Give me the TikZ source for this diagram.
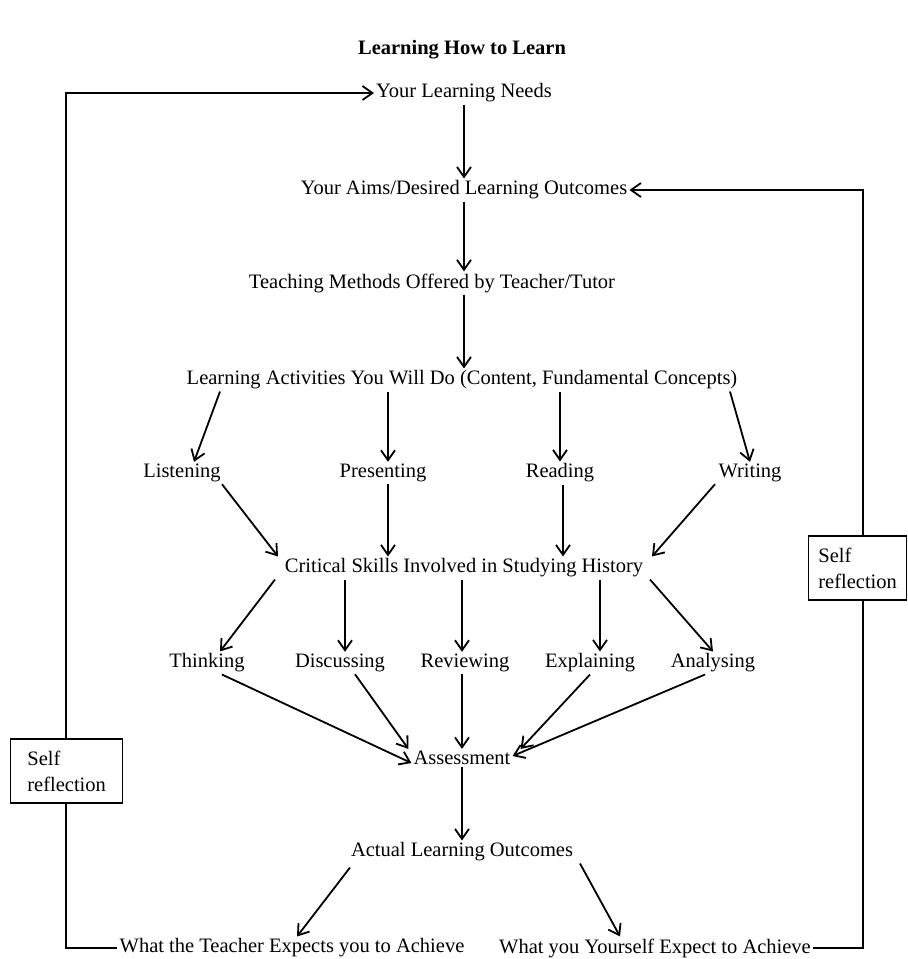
\documentclass[tikz,border=0pt]{standalone}
\usepackage{fontspec}
\setmainfont{Liberation Serif}
\usetikzlibrary{arrows.meta}
\begin{document}
\begin{tikzpicture}[x=1pt,y=-1pt,
  txt/.style={inner sep=2pt, font=\fontsize{20.5}{22}\selectfont},
  arr/.style={line width=1.8pt, -{Straight Barb[length=10pt,width=14pt,line width=1.8pt]}},
  ln/.style={line width=1.8pt},
  selfbox/.style={draw, line width=1.3pt, minimum height=64pt, align=left, inner sep=5pt, font=\fontsize{20.5}{26}\selectfont, anchor=west}]
\useasboundingbox (0,0) rectangle (908,959);
\node[txt, font=\bfseries\fontsize{20.5}{22}\selectfont] (title) at (462,50) {Learning How to Learn};
\node[txt] (need) at (464,93) {Your Learning Needs};
\node[txt] (aims) at (464,190) {Your Aims/Desired Learning Outcomes};
\node[txt] (teach) at (432,283) {Teaching Methods Offered by Teacher/Tutor};
\node[txt] (la) at (462,380) {Learning Activities You Will Do (Content, Fundamental Concepts)};
\node[txt] (listen) at (182,473) {Listening};
\node[txt] (present) at (383,473) {Presenting};
\node[txt] (read) at (560,473) {Reading};
\node[txt] (write) at (750,473) {Writing};
\node[txt] (cs) at (464,568) {Critical Skills Involved in Studying History};
\node[txt] (think) at (207,663) {Thinking};
\node[txt] (disc) at (340,663) {Discussing};
\node[txt] (rev) at (465,663) {Reviewing};
\node[txt] (expl) at (590,663) {Explaining};
\node[txt] (anal) at (713,663) {Analysing};
\node[txt] (assess) at (462,758) {Assessment};
\node[txt] (actual) at (462,852) {Actual Learning Outcomes};
\node[txt] (teacher) at (292,948) {What the Teacher Expects you to Achieve};
\node[txt] (yourself) at (655,948) {What you Yourself Expect to Achieve};
\node[selfbox, minimum width=112pt] (selfL) at (10,771) {Self\\reflection};
\node[selfbox, minimum width=98pt] (selfR) at (808,568) {Self\\reflection};
% main chain
\draw[arr] (need) -- (aims);
\draw[arr] (aims) -- ([xshift=32pt]teach.north);
\draw[arr] ([xshift=32pt]teach.south) -- ([xshift=2pt]la.north);
% activities
\draw[arr] ([xshift=-242pt]la.south) -- ([xshift=12pt]listen.north);
\draw[arr] ([xshift=-74pt]la.south) -- ([xshift=5pt]present.north);
\draw[arr] ([xshift=98pt]la.south) -- (read.north);
\draw[arr] ([xshift=268pt]la.south) -- (write.north);
% to critical skills
\draw[arr] ([xshift=40pt]listen.south) -- ([xshift=-186pt]cs.north);
\draw[arr] ([xshift=5pt]present.south) -- ([xshift=-76pt]cs.north);
\draw[arr] ([xshift=3pt]read.south) -- ([xshift=99pt]cs.north);
\draw[arr] ([xshift=-35pt]write.south) -- ([xshift=188pt]cs.north);
% skills
\draw[arr] ([xshift=-189pt]cs.south) -- ([xshift=13pt]think.north);
\draw[arr] ([xshift=-119pt]cs.south) -- ([xshift=5pt]disc.north);
\draw[arr] ([xshift=-2pt]cs.south) -- ([xshift=-3pt]rev.north);
\draw[arr] ([xshift=136pt]cs.south) -- ([xshift=10pt]expl.north);
\draw[arr] ([xshift=186pt]cs.south) -- (anal.north);
% to assessment
\draw[arr] ([xshift=15pt]think.south) -- ([yshift=-5pt]assess.west);
\draw[arr] ([xshift=15pt]disc.south) -- ([xshift=-3pt]assess.north west);
\draw[arr] ([xshift=-3pt]rev.south) -- (assess.north);
\draw[arr] (expl.south) -- ([xshift=8pt]assess.north east);
\draw[arr] ([xshift=-8pt]anal.south) -- ([yshift=2pt]assess.east);
\draw[arr] (assess) -- (actual);
\draw[arr] ([xshift=-112pt,yshift=-4pt]actual.south) -- ([xshift=5pt]teacher.north);
\draw[arr] ([xshift=118pt]actual.south) -- ([xshift=-35pt]yourself.north);
% loops
\draw[arr] ([xshift=-1pt]selfL.north) |- (need.west);
\draw[ln] ([xshift=-1pt]selfL.south) |- (teacher.west);
\draw[arr] ([xshift=5pt]selfR.north) |- (aims.east);
\draw[ln] ([xshift=5pt]selfR.south) |- (yourself.east);
\end{tikzpicture}
\end{document}
